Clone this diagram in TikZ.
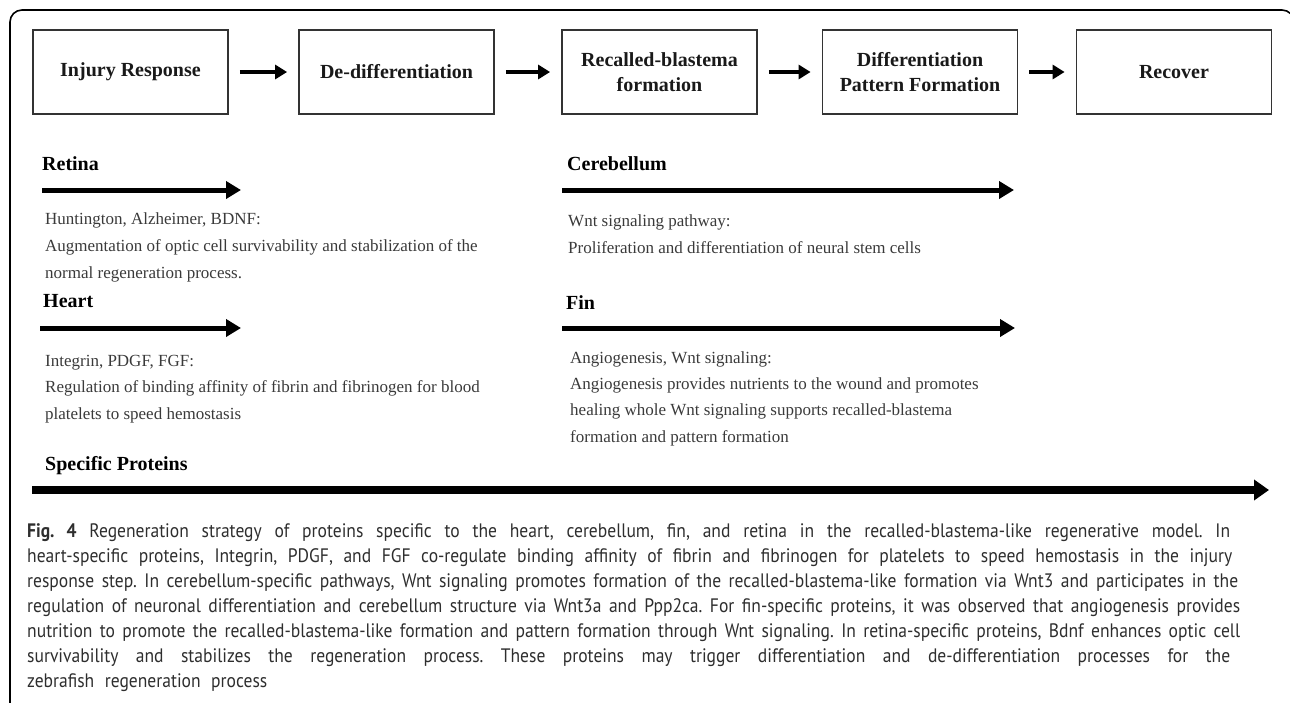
\documentclass[tikz,border=0pt]{standalone}
\usepackage{fontspec}
\setmainfont{Liberation Serif}
\newfontfamily\capfont[FakeStretch=0.9]{PT Sans}
\usetikzlibrary{arrows.meta}
\definecolor{bodygray}{HTML}{3A3A3A}
\definecolor{capgray}{HTML}{2E2E2E}
\definecolor{boxgray}{HTML}{333333}
\frenchspacing

\begin{document}
\begin{tikzpicture}[x=1pt,y=-1pt,
  stage/.style={draw=boxgray, line width=1.8pt, minimum width=195pt, minimum height=84pt,
    inner sep=0pt, align=center, text=black!90, font=\fontsize{20}{25}\selectfont\bfseries},
  flow/.style={line width=4pt, -{Triangle[length=12pt,width=14pt]}, shorten <=11pt, shorten >=11pt},
  track/.style={line width=5pt, -{Triangle[length=15pt,width=17pt]}},
  bigtrack/.style={line width=7.5pt, -{Triangle[length=15pt,width=20pt]}},
  organ/.style={anchor=base west, inner sep=0pt, font=\fontsize{20}{22}\selectfont\bfseries},
  note/.style={anchor=base west, inner sep=0pt, text=bodygray, font=\fontsize{17}{20}\selectfont},
  capline/.style={anchor=base west, inner sep=0pt, text=capgray, font=\capfont\fontsize{19.5}{22}\selectfont}]

\useasboundingbox (0,0) rectangle (1290,702);

% outer frame, open at the bottom
\draw[line width=1.6pt, rounded corners=12pt] (10,720) -- (10,10) -- (1294,10) -- (1294,720);

% stages of regeneration
\node[stage] (inj)     at (130.5,72) {Injury Response};
\node[stage] (dediff)  at (396.5,72) {De-differentiation};
\node[stage] (blast)   at (659.5,72) {Recalled-blastema\\formation};
\node[stage] (pattern) at (920,72)   {Differentiation\\Pattern Formation};
\node[stage] (recover) at (1174,72)  {Recover};

\draw[flow] (inj) -- (dediff);
\draw[flow] (dediff) -- (blast);
\draw[flow] (blast) -- (pattern);
\draw[flow] (pattern) -- (recover);

% retina
\node[organ] (retina) at (42,170) {Retina};
\coordinate (retS) at (42,190);
\coordinate (retE) at (241,190);
\draw[track] (retS) -- (retE);
\node[note] (ret1) at (45,224) {Huntington, Alzheimer, BDNF:};
\node[note] (ret2) at (45,251) {Augmentation of optic cell survivability and stabilization of the};
\node[note] (ret3) at (45,278) {normal regeneration process.};

% heart
\node[organ] (heart) at (43,307) {Heart};
\coordinate (heaS) at (40,328);
\coordinate (heaE) at (241,328);
\draw[track] (heaS) -- (heaE);
\node[note] (hea1) at (45,366) {Integrin, PDGF, FGF:};
\node[note] (hea2) at (45,392.5) {Regulation of binding affinity of fibrin and fibrinogen for blood};
\node[note] (hea3) at (45,419) {platelets to speed hemostasis};

% cerebellum
\node[organ] (cereb) at (567,170) {Cerebellum};
\coordinate (cerS) at (562,190);
\coordinate (cerE) at (1014,190);
\draw[track] (cerS) -- (cerE);
\node[note] (cer1) at (568,226) {Wnt signaling pathway:};
\node[note] (cer2) at (568,253) {Proliferation and differentiation of neural stem cells};

% fin
\node[organ] (fin) at (566,309) {Fin};
\coordinate (finS) at (562,328);
\coordinate (finE) at (1015,328);
\draw[track] (finS) -- (finE);
\node[note] (fin1) at (570,363) {Angiogenesis, Wnt signaling:};
\node[note] (fin2) at (570,389) {Angiogenesis provides nutrients to the wound and promotes};
\node[note] (fin3) at (570,415.5) {healing whole Wnt signaling supports recalled-blastema};
\node[note] (fin4) at (570,442) {formation and pattern formation};

% specific proteins
\node[organ] (spec) at (45,470) {Specific Proteins};
\coordinate (spS) at (32,490);
\coordinate (spE) at (1269,490);
\draw[bigtrack] (spS) -- (spE);

% caption
\node[capline] (cap1) at (27,537) {\makebox[1203pt][s]{\textbf{Fig. 4} Regeneration strategy of proteins specific to the heart, cerebellum, fin, and retina in the recalled-blastema-like regenerative model. In}};
\node[capline] (cap2) at (27,562) {\makebox[1205pt][s]{heart-specific proteins, Integrin, PDGF, and FGF co-regulate binding affinity of fibrin and fibrinogen for platelets to speed hemostasis in the injury}};
\node[capline] (cap3) at (27,587) {\makebox[1211pt][s]{response step. In cerebellum-specific pathways, Wnt signaling promotes formation of the recalled-blastema-like formation via Wnt3 and participates in the}};
\node[capline] (cap4) at (27,612) {\makebox[1213pt][s]{regulation of neuronal differentiation and cerebellum structure via Wnt3a and Ppp2ca. For fin-specific proteins, it was observed that angiogenesis provides}};
\node[capline] (cap5) at (27,637) {\makebox[1213pt][s]{nutrition to promote the recalled-blastema-like formation and pattern formation through Wnt signaling. In retina-specific proteins, Bdnf enhances optic cell}};
\node[capline] (cap6) at (27,662) {\makebox[1203pt][s]{survivability and stabilizes the regeneration process. These proteins may trigger differentiation and de-differentiation processes for the}};
\node[capline] (cap7) at (27,687) {zebrafish\hspace{0.3em} regeneration\hspace{0.3em} process};
\end{tikzpicture}
\end{document}
